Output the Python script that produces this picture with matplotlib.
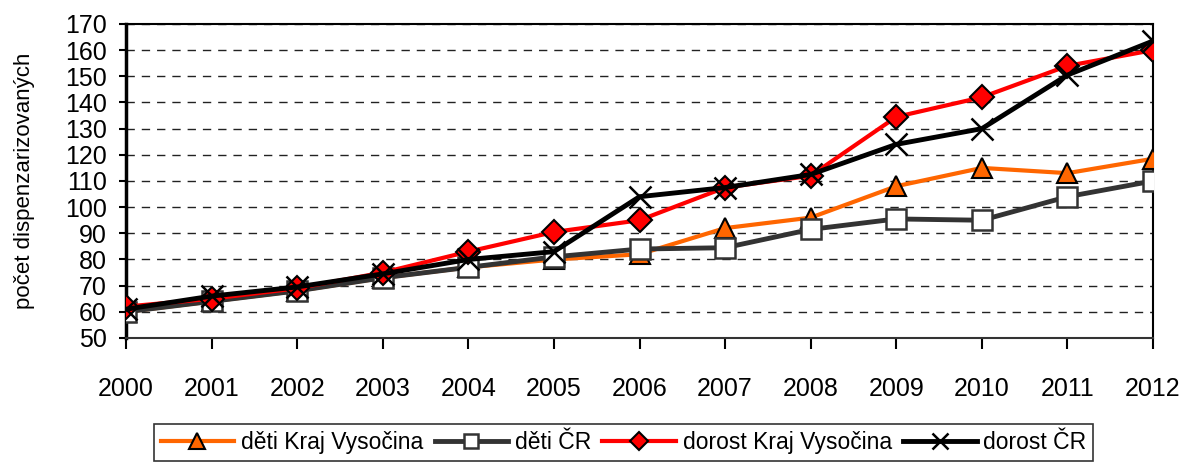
import matplotlib
matplotlib.use("Agg")
import matplotlib.pyplot as plt

plt.rcParams['font.family'] = ['Liberation Sans', 'DejaVu Sans']

roky = list(range(2000, 2013))
deti_kraj = [60, 64, 68, 73, 77, 80, 82, 92, 96, 108, 115, 113, 118.5]
deti_cr = [60, 64, 68, 73, 77, 81, 84, 84.5, 91.5, 95.5, 95, 104, 110]
dorost_kraj = [62, 65, 69, 75, 83, 90.5, 95, 107.5, 112, 134.5, 142, 154, 160]
dorost_cr = [61, 66, 69.5, 74.5, 80, 83, 104, 107.5, 112.5, 124, 130, 150.5, 163.5]

fig = plt.figure(figsize=(11.81, 4.66), dpi=100)
ax = fig.add_axes([0.1067, 0.2747, 0.8696, 0.6738])

ax.plot(roky, deti_kraj, color='#FF6600', lw=3, marker='^', ms=15,
        mfc='#FF6600', mec='black', mew=1.5, label='děti Kraj Vysočina', zorder=3)
ax.plot(roky, deti_cr, color='#333333', lw=3.5, marker='s', ms=14,
        mfc='white', mec='#333333', mew=1.8, label='děti ČR', zorder=4)
ax.plot(roky, dorost_kraj, color='#FF0000', lw=3, marker='D', ms=12,
        mfc='#FF0000', mec='black', mew=1.5, label='dorost Kraj Vysočina', zorder=5)
ax.plot(roky, dorost_cr, color='black', lw=3.5, marker='x', ms=16,
        mec='black', mew=1.8, label='dorost ČR', zorder=6)

ax.set_xlim(2000, 2012)
ax.set_ylim(50, 170)
ax.set_xticks(roky)
ax.set_yticks(range(50, 171, 10))
ax.yaxis.grid(True, linestyle=(0, (6, 5)), color='#222222', lw=1)
ax.set_axisbelow(True)

ax.tick_params(axis='x', direction='out', length=8, width=1.5, pad=20, labelsize=18)
ax.tick_params(axis='y', direction='out', length=5, width=1.5, pad=9, labelsize=18)
for s in ax.spines.values():
    s.set_linewidth(1.5)
ax.spines['left'].set_linewidth(2.5)
ax.spines['bottom'].set_color('#333333')

ax.set_ylabel('počet dispenzarizovaných', fontsize=16)
ax.yaxis.set_label_coords(-0.089, 0.5)

leg = fig.legend(loc='center', bbox_to_anchor=(0.528, 0.051), ncol=4, fontsize=16.5,
                 frameon=True, fancybox=False, edgecolor='black', handlelength=3.2,
                 handletextpad=0.3, columnspacing=0.5, borderpad=0.3, markerscale=0.75)
leg.get_frame().set_linewidth(1.2)

fig.savefig('out.png', dpi=100)
